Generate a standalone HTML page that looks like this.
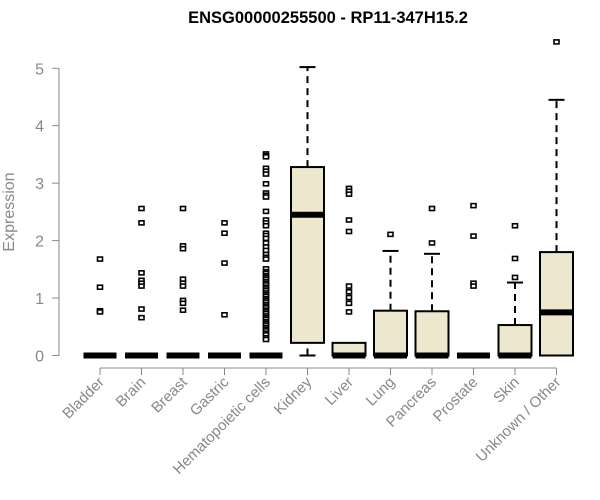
<!DOCTYPE html>
<html><head><meta charset="utf-8"><style>body{margin:0;background:#fff}svg{display:block;font-family:"Liberation Sans",Arial,sans-serif}</style></head>
<body>
<svg id="chart" width="600" height="500" viewBox="0 0 600 500">
<text x="328" y="23" text-anchor="middle" font-size="16.5" font-weight="bold">ENSG00000255500 - RP11-347H15.2</text>
<text transform="translate(14,212) rotate(-90)" text-anchor="middle" font-size="16" fill="#888">Expression</text>
<g id="axes"></g><g id="marks"></g>
</svg>
<script>
const categories=["Bladder","Brain","Breast","Gastric","Hematopoietic cells","Kidney","Liver","Lung","Pancreas","Prostate","Skin","Unknown / Other"];
const q1=[0,0,0,0,0,0.22,0,0,0,0,0,0];
const medians=[0,0,0,0,0,2.45,0,0,0,0,0,0.75];
const q3=[0,0,0,0,0,3.28,0.22,0.78,0.77,0,0.53,1.8];
const whiskLo=[0,0,0,0,0,0,0,0,0,0,0,0];
const whiskHi=[0,0,0,0,0,5.02,0.22,1.82,1.77,0,1.27,4.45];
const outliers=[
[1.67,1.18,0.77,0.75],
[2.55,2.3,1.43,1.3,1.25,1.2,0.8,0.65],
[2.55,1.9,1.85,1.32,1.25,1.2,0.95,0.9,0.78],
[2.3,2.12,1.6,0.7],
[3.5,3.47,3.45,3.25,3.2,3.15,2.98,2.82,2.78,2.75,2.5,2.35,2.3,2.25,2.12,2.08,2.03,1.95,1.88,1.82,1.75,1.7,1.67,1.5,1.45,1.42,1.38,1.35,1.32,1.28,1.25,1.22,1.18,1.15,1.12,1.08,1.05,1.02,0.98,0.95,0.92,0.88,0.85,0.82,0.78,0.75,0.72,0.68,0.65,0.62,0.58,0.55,0.52,0.48,0.45,0.42,0.38,0.35,0.3,0.27],
[],
[2.9,2.85,2.8,2.35,2.15,1.2,1.1,1.0,0.9,0.75],
[2.1],
[2.55,1.95],
[2.6,2.07,1.25,1.2],
[2.25,1.68,1.35],
[5.45]];
const yTicks=[0,1,2,3,4,5];
const NS="http://www.w3.org/2000/svg";
const yS=v=>355.5-57.45*v;
const xS=i=>100+41.5*i;
const W=33;
function mk(t,a,p){const e=document.createElementNS(NS,t);for(const k in a)e.setAttribute(k,a[k]);p.appendChild(e);return e;}
const ax=document.getElementById('axes'),mg=document.getElementById('marks');
const yl=mk('line',{x1:59,x2:59,y1:yS(5),y2:yS(0),stroke:'#888'},ax);


yTicks.forEach(t=>{
 const l=mk('line',{x1:52,x2:59,y1:yS(t),y2:yS(t),stroke:'#888'},ax);
 
 
 const tx=mk('text',{x:44,y:yS(t)+6,'text-anchor':'end','font-size':16,fill:'#888'},ax);
 tx.textContent=t;
 
 
});
const xl=mk('line',{x1:xS(0),x2:xS(categories.length-1),y1:368,y2:368,stroke:'#888'},ax);


categories.forEach((c,i)=>{
 const x=xS(i);
 const l=mk('line',{x1:x,x2:x,y1:368,y2:375,stroke:'#888'},ax);
 
 
 const tx=mk('text',{transform:`translate(${x+5},${383}) rotate(-45)`,'text-anchor':'end','font-size':15,fill:'#888'},ax);
 tx.textContent=c;
 
 
 const g=mk('g',{},mg);
 
 
 if(whiskHi[i]>q3[i]){
  mk('line',{x1:x,x2:x,y1:yS(q3[i]),y2:yS(whiskHi[i]),stroke:'#000','stroke-width':2,'stroke-dasharray':'7,5'},g);
  mk('line',{x1:x-8,x2:x+8,y1:yS(whiskHi[i]),y2:yS(whiskHi[i]),stroke:'#000','stroke-width':2},g);
 }
 if(q1[i]>whiskLo[i]){
  mk('line',{x1:x,x2:x,y1:yS(whiskLo[i]),y2:yS(q1[i]),stroke:'#000','stroke-width':2,'stroke-dasharray':'7,5'},g);
  mk('line',{x1:x-8,x2:x+8,y1:yS(whiskLo[i]),y2:yS(whiskLo[i]),stroke:'#000','stroke-width':2},g);
 }
 if(q3[i]>q1[i]) mk('rect',{x:x-W/2,y:yS(q3[i]),width:W,height:yS(q1[i])-yS(q3[i]),fill:'#ede7cd',stroke:'#000','stroke-width':2},g);
 mk('line',{x1:x-W/2,x2:x+W/2,y1:yS(medians[i]),y2:yS(medians[i]),stroke:'#000','stroke-width':6},g);
 outliers[i].forEach(v=>{
  const p=mk('rect',{x:x-2.5,y:yS(v)-2.5,width:5,height:4,fill:'#fff',stroke:'#000','stroke-width':1.6},g);
  
  
 });
});
</script>
</body></html>
